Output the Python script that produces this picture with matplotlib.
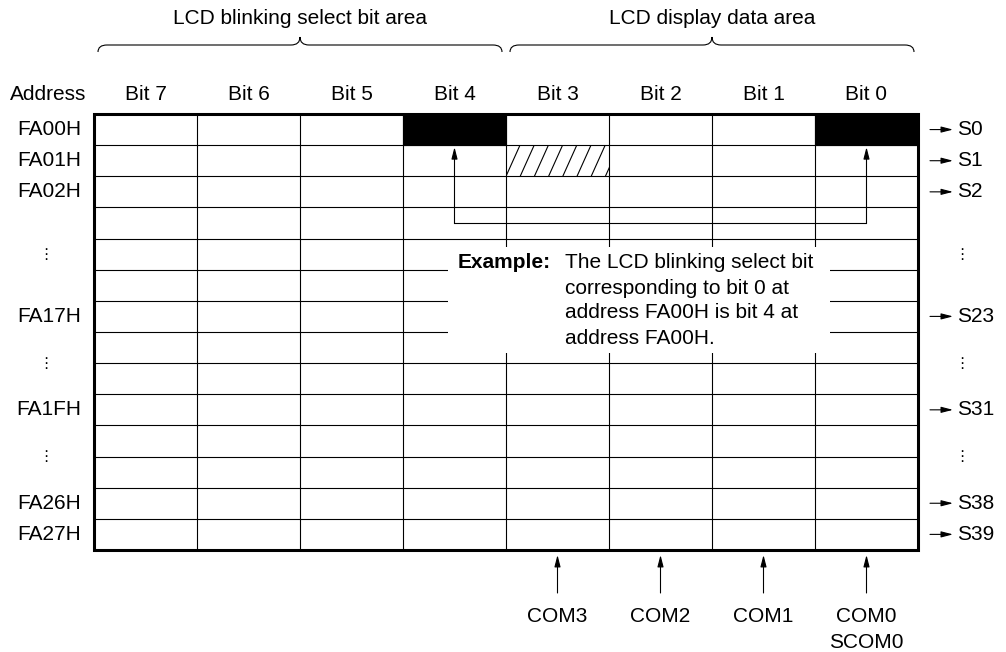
import matplotlib
matplotlib.use("Agg")
import matplotlib.pyplot as plt
from matplotlib.patches import Rectangle, PathPatch
from matplotlib.path import Path

plt.rcParams['font.family'] = ['Liberation Sans', 'DejaVu Sans']

# ---- diagram content ----
area_titles = ["LCD blinking select bit area", "LCD display data area"]
bit_labels = ["Bit 7", "Bit 6", "Bit 5", "Bit 4", "Bit 3", "Bit 2", "Bit 1", "Bit 0"]
addr_labels = ["FA00H", "FA01H", "FA02H", "\u22ee", "FA17H", "\u22ee", "FA1FH", "\u22ee", "FA26H", "FA27H"]
seg_labels = ["S0", "S1", "S2", "\u22ee", "S23", "\u22ee", "S31", "\u22ee", "S38", "S39"]
label_rows = [0.5, 1.5, 2.5, 4.5, 6.5, 8.0, 9.5, 11.0, 12.5, 13.5]
com_labels = ["COM3", "COM2", "COM1", "COM0\nSCOM0"]
com_cols = [4, 5, 6, 7]
black_cells = [(0, 3), (0, 7)]   # (row, col)
hatch_cell = (1, 4)
example_title = "Example:"
example_lines = ["The LCD blinking select bit", "corresponding to bit 0 at",
                 "address FA00H is bit 4 at", "address FA00H."]

# ---- layout (pixel coordinates) ----
GX0, GY0 = 94, 114
CW, RH = 103, 31.14
NCOLS, NROWS = 8, 14
FS = 15

def colx(c):
    return GX0 + c * CW

def rowy(r):
    return GY0 + r * RH

fig = plt.figure(figsize=(10.06, 6.52), dpi=100)
ax = fig.add_axes([0, 0, 1, 1])
ax.set_xlim(0, 1006)
ax.set_ylim(652, 0)
ax.axis('off')

# grid lines
for c in range(1, NCOLS):
    ax.plot([colx(c)] * 2, [rowy(0), rowy(NROWS)], color='k', lw=0.8, zorder=2)
for r in range(1, NROWS):
    ax.plot([colx(0), colx(NCOLS)], [rowy(r)] * 2, color='k', lw=0.8, zorder=2)

# black cells
for r, c in black_cells:
    ax.add_patch(Rectangle((colx(c), rowy(r)), CW, RH, facecolor='k', edgecolor='k', lw=0.8, zorder=3))

# hatched cell
hr, hc = hatch_cell
clip = Rectangle((colx(hc), rowy(hr)), CW, RH, transform=ax.transData)
step, dx = 14.2, 14.0
k = -1
while colx(hc) + k * step < colx(hc + 1) + 2:
    xb = colx(hc) + k * step
    ln, = ax.plot([xb, xb + dx], [rowy(hr + 1), rowy(hr)], color='k', lw=0.8, zorder=3)
    ln.set_clip_path(clip)
    k += 1

# outer border
ax.add_patch(Rectangle((colx(0), rowy(0)), NCOLS * CW, NROWS * RH, fill=False,
                       edgecolor='k', lw=2.2, zorder=5))

# header labels
ax.text(48, 95, "Address", ha='center', va='center', fontsize=FS)
for c, lab in enumerate(bit_labels):
    ax.text(colx(c) + CW / 2, 95, lab, ha='center', va='center', fontsize=FS)

# braces and area titles
def brace(x0, x1, y=45, h=7, tip=8, r=9):
    xc = (x0 + x1) / 2
    verts = [(x0, y + h), (x0, y), (x0 + r, y), (xc - r, y), (xc, y), (xc, y - tip),
             (xc, y), (xc + r, y), (x1 - r, y), (x1, y), (x1, y + h)]
    codes = [Path.MOVETO, Path.CURVE3, Path.CURVE3, Path.LINETO, Path.CURVE3, Path.CURVE3,
             Path.CURVE3, Path.CURVE3, Path.LINETO, Path.CURVE3, Path.CURVE3]
    ax.add_patch(PathPatch(Path(verts, codes), fill=False, lw=0.8, edgecolor='k'))

for i, title in enumerate(area_titles):
    x0, x1 = colx(4 * i) + 4, colx(4 * i + 4) - 4
    brace(x0, x1)
    ax.text((x0 + x1) / 2, 18, title, ha='center', va='center', fontsize=FS)

# row labels and segment arrows
arrow_kw = dict(arrowstyle='-|>,head_length=0.7,head_width=0.18', color='k', lw=0.8,
                shrinkA=0, shrinkB=0, mutation_scale=10)
for lab, seg, r in zip(addr_labels, seg_labels, label_rows):
    y = rowy(r)
    if lab == "\u22ee":
        ax.text(46, y, lab, ha='center', va='center', fontsize=11, family='DejaVu Sans')
        ax.text(962, y, seg, ha='center', va='center', fontsize=11, family='DejaVu Sans')
    else:
        ax.text(81, y, lab, ha='right', va='center', fontsize=FS)
        ax.annotate('', xy=(953, y), xytext=(930, y), arrowprops=arrow_kw)
        ax.text(957, y, seg, ha='left', va='center', fontsize=FS)

# COM arrows at bottom
for lab, c in zip(com_labels, com_cols):
    x = colx(c) + CW / 2
    ax.annotate('', xy=(x, rowy(NROWS) + 5), xytext=(x, 593), arrowprops=arrow_kw)
    for j, part in enumerate(lab.split("\n")):
        ax.text(x, 617 + j * 26, part, ha='center', va='center', fontsize=FS)

# blinking-bit to display-bit connector
xa, xb_ = colx(3) + CW / 2, colx(7) + CW / 2
yc = 223
ax.plot([xa, xb_], [yc, yc], color='k', lw=0.8, zorder=4)
for x in (xa, xb_):
    ax.annotate('', xy=(x, rowy(1) + 2), xytext=(x, yc), arrowprops=arrow_kw, zorder=4)

# example box
ax.add_patch(Rectangle((448, 247), 382, 106, facecolor='white', edgecolor='none', zorder=6))
ax.text(458, 263, example_title, ha='left', va='center', fontsize=FS, fontweight='bold', zorder=7)
for i, line in enumerate(example_lines):
    ax.text(565, 263 + i * 25, line, ha='left', va='center', fontsize=FS, zorder=7)

fig.savefig("out.png", dpi=100)
